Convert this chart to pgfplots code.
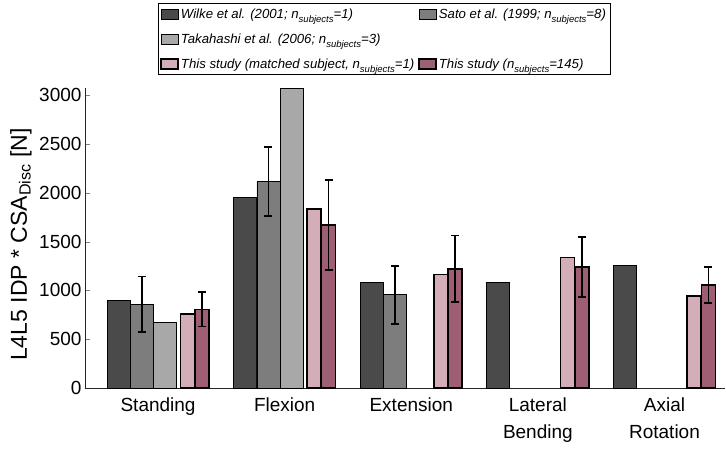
\documentclass[border=0pt]{standalone}
\usepackage{pgfplots}
\pgfplotsset{compat=1.18}
\usepackage{fontspec}
\setmainfont{Liberation Sans}
\definecolor{cWilke}{HTML}{4A4A4A}
\definecolor{cSato}{HTML}{7D7D7D}
\definecolor{cTak}{HTML}{A8A8A8}
\definecolor{cMatch}{HTML}{D3AEB9}
\definecolor{cThis}{HTML}{9E5E73}
\newcommand\sub[1]{\raisebox{-0.6ex}{\fontsize{9.5}{9.5}\selectfont #1}}
\pgfplotsset{
  swatch/.style={legend image code/.code={\draw[##1] (0pt,-5pt) rectangle (17pt,5pt);}},
  ebars/.style={error bars/.cd, y dir=both, y explicit,
    error bar style={line width=1.8pt, black},
    error mark=-,
    error mark options={rotate=90, line width=1.8pt, mark size=4pt, black}},
}
\begin{document}
\begin{tikzpicture}
\useasboundingbox (0,0) rectangle (726pt,448pt);
\begin{axis}[
  at={(85pt,60pt)}, anchor=south west,
  scale only axis, width=640pt, height=300pt,
  xmin=-0.577, xmax=4.478, ymin=0, ymax=3075,
  axis x line*=bottom, axis y line*=left,
  axis line style={line width=0.8pt, black!85},
  ytick={0,500,...,3000},
  xtick={0,1,2,3,4},
  xticklabels={Standing, Flexion, Extension, {Lateral\\Bending}, {Axial\\Rotation}},
  xticklabel style={align=center, font=\fontsize{19}{27}\selectfont, yshift=-6pt},
  major x tick style={draw=none},
  yticklabel style={font=\fontsize{19}{22}\selectfont},
  /pgf/number format/assume math mode=true,
  /pgf/number format/1000 sep={},
  tick align=inside, major tick length=5pt,
  ylabel={L4L5 IDP * CSA\textsubscript{Disc} [N]},
  ylabel style={at={(axis description cs:-0.100,0.478)}, anchor=center, font=\fontsize{23}{26}\selectfont},
  legend columns=2,
  legend cell align=left,
  legend style={at={(axis description cs:0.114,1.283)}, anchor=north west,
    draw=black, line width=0.8pt, font=\fontsize{13.2}{16}\selectfont\itshape,
    inner xsep=2pt, inner ysep=3pt, row sep=10pt,
    /tikz/every even column/.append style={column sep=2pt}},
]
\addplot[ybar, bar width=0.182, bar shift=0pt, fill=cWilke, draw=black, line width=0.8pt, swatch]
  coordinates {(-0.312,900) (0.688,1950) (1.688,1082) (2.688,1082) (3.688,1259)};
\addlegendentry{Wilke et al. (2001; n\sub{subjects}=1)}
\addplot[ybar, bar width=0.182, bar shift=0pt, fill=cSato, draw=black, line width=0.8pt, swatch, ebars]
  coordinates {(-0.128,857) +- (0,285) (0.872,2115) +- (0,355) (1.872,955) +- (0,298)};
\addlegendentry{Sato et al. (1999; n\sub{subjects}=8)}
\addplot[ybar, bar width=0.182, bar shift=0pt, fill=cTak, draw=black, line width=0.8pt, swatch]
  coordinates {(0.055,668) (1.055,3070)};
\addlegendentry{Takahashi et al. (2006; n\sub{subjects}=3)}
\addlegendimage{empty legend}
\addlegendentry{}
\addplot[ybar, bar width=0.111, bar shift=0pt, fill=cMatch, draw=black, line width=1.6pt, swatch]
  coordinates {(0.233,757) (1.233,1835) (2.233,1164) (3.233,1338) (4.233,945)};
\addlegendentry{This study (matched subject, n\sub{subjects}=1)}
\addplot[ybar, bar width=0.111, bar shift=0pt, fill=cThis, draw=black, line width=1.6pt, swatch, ebars]
  coordinates {(0.347,805) +- (0,175) (1.347,1672) +- (0,462) (2.347,1221) +- (0,343) (3.347,1242) +- (0,307) (4.347,1057) +- (0,187)};
\addlegendentry{This study (n\sub{subjects}=145)}
\end{axis}
\end{tikzpicture}
\end{document}
